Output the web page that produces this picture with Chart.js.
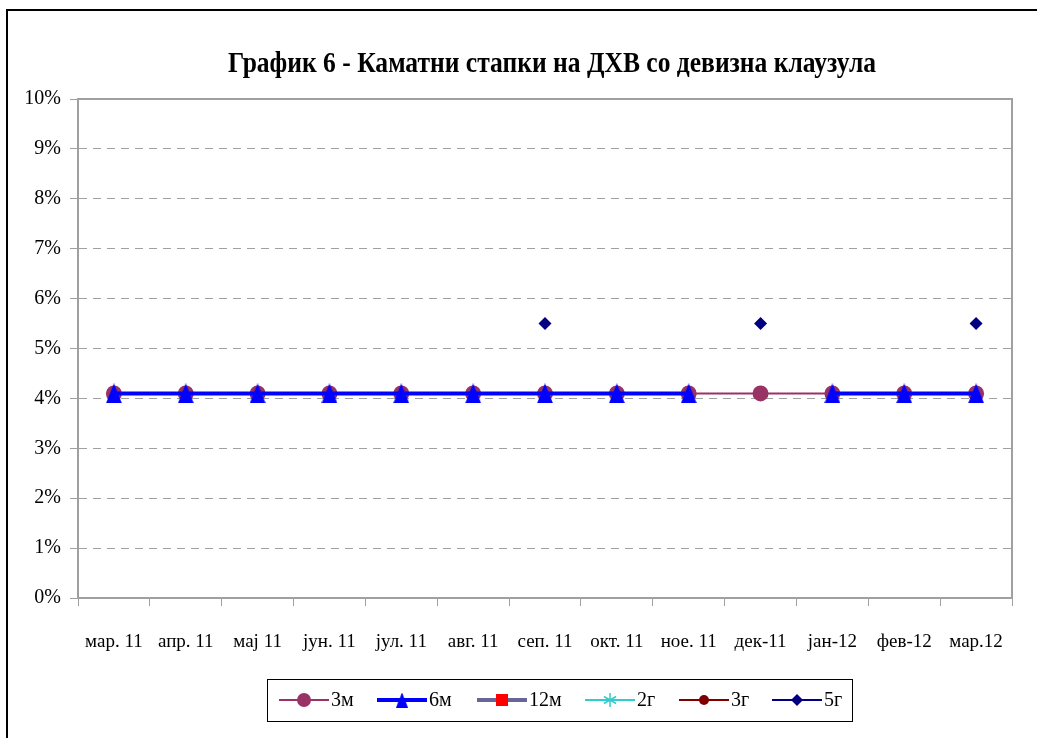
<!DOCTYPE html>
<html>
<head>
<meta charset="utf-8">
<script src="https://cdn.jsdelivr.net/npm/chart.js@4"></script>
<style>
  html, body { margin: 0; padding: 0; background: #fff; overflow: hidden; }
  #frame {
    position: absolute; left: 6px; top: 9px; width: 1100px; height: 800px;
    border-left: 2px solid #000; border-top: 2px solid #000;
  }
  #chart { position: absolute; left: 0; top: 0; }
</style>
</head>
<body>
<div id="frame"></div>
<canvas id="chart" width="1037" height="738"></canvas>
<script>
const TITLE = 'График 6 - Каматни стапки на ДХВ со девизна клаузула';
const FONT = '"Liberation Serif", "Times New Roman", serif';

const months = ['мар. 11', 'апр. 11', 'мај 11', 'јун. 11', 'јул. 11', 'авг. 11', 'сеп. 11',
  'окт. 11', 'ное. 11', 'дек-11', 'јан-12', 'фев-12', 'мар.12'];
const yTicks = [0, 1, 2, 3, 4, 5, 6, 7, 8, 9, 10];

const rate3m = [4.1, 4.1, 4.1, 4.1, 4.1, 4.1, 4.1, 4.1, 4.1, 4.1, 4.1, 4.1, 4.1];
const rate6m = [4.1, 4.1, 4.1, 4.1, 4.1, 4.1, 4.1, 4.1, 4.1, null, 4.1, 4.1, 4.1];
const rate12m = [null, null, null, null, null, null, null, null, null, null, null, null, null];
const rate2g = [null, null, null, null, null, null, null, null, null, null, null, null, null];
const rate3g = [null, null, null, null, null, null, null, null, null, null, null, null, null];
const rate5g = [null, null, null, null, null, null, 5.5, null, null, 5.5, null, null, 5.5];

// tall triangle marker, base sits below the point
function triangleMark(color) {
  const c = document.createElement('canvas');
  c.width = 16;
  c.height = 20;
  const g = c.getContext('2d');
  g.fillStyle = color;
  g.beginPath();
  g.moveTo(8, 0);
  g.lineTo(16, 20);
  g.lineTo(0, 20);
  g.closePath();
  g.fill();
  return c;
}

function series(label, data, color, markColor, width, style, radius, order) {
  return {
    label: label,
    data: data,
    borderColor: color,
    backgroundColor: markColor,
    pointBackgroundColor: markColor,
    pointBorderColor: markColor,
    borderWidth: width,
    pointStyle: style,
    pointRadius: radius,
    pointHoverRadius: radius,
    pointBorderWidth: style === 'star' ? 1.5 : 0,
    spanGaps: false,
    tension: 0,
    order: order
  };
}

// plot frame on all four sides
const plotFrame = {
  id: 'plotFrame',
  beforeDatasetsDraw(chart) {
    const a = chart.chartArea;
    const ctx = chart.ctx;
    ctx.save();
    ctx.strokeStyle = '#a0a0a0';
    ctx.lineWidth = 2;
    ctx.strokeRect(a.left, a.top, a.right - a.left, a.bottom - a.top);
    ctx.restore();
  }
};

// title squeezed into a narrow block
const titleText = {
  id: 'titleText',
  afterDraw(chart) {
    const ctx = chart.ctx;
    ctx.save();
    ctx.font = 'bold 29px ' + FONT;
    ctx.fillStyle = '#000';
    ctx.textAlign = 'center';
    ctx.textBaseline = 'alphabetic';
    const w = ctx.measureText(TITLE).width;
    const sx = 648 / w;
    ctx.translate(552, 72);
    ctx.scale(sx, 1);
    ctx.fillText(TITLE, 0, 0);
    ctx.restore();
  }
};

function drawMark(ctx, style, x, y, r, color) {
  ctx.fillStyle = color;
  ctx.strokeStyle = color;
  ctx.beginPath();
  if (style instanceof HTMLCanvasElement) {
    const w = style.width * 0.75;
    const h = style.height * 0.75;
    ctx.drawImage(style, x - w / 2, y - h / 2, w, h);
  } else if (style === 'circle') {
    ctx.arc(x, y, r, 0, Math.PI * 2);
    ctx.fill();
  } else if (style === 'rect') {
    const s = r * 0.75;
    ctx.fillRect(x - s, y - s, 2 * s, 2 * s);
  } else if (style === 'rectRot') {
    ctx.moveTo(x, y - r);
    ctx.lineTo(x + r, y);
    ctx.lineTo(x, y + r);
    ctx.lineTo(x - r, y);
    ctx.closePath();
    ctx.fill();
  } else if (style === 'star') {
    ctx.lineWidth = 1.5;
    for (let i = 0; i < 3; i++) {
      const ang = Math.PI / 2 + i * Math.PI / 3;
      ctx.moveTo(x + Math.cos(ang) * r, y + Math.sin(ang) * r);
      ctx.lineTo(x - Math.cos(ang) * r, y - Math.sin(ang) * r);
    }
    ctx.stroke();
  }
}

// boxed legend with line + marker samples
const boxLegend = {
  id: 'boxLegend',
  afterDraw(chart) {
    const ctx = chart.ctx;
    const starts = [279, 377, 477, 585, 679, 772];
    const cy = 700;
    ctx.save();
    ctx.strokeStyle = '#000';
    ctx.lineWidth = 1;
    ctx.strokeRect(267.5, 679.5, 585, 42);
    ctx.font = '20px ' + FONT;
    ctx.textBaseline = 'middle';
    chart.data.datasets.forEach((ds, i) => {
      const x0 = starts[i];
      ctx.strokeStyle = ds.borderColor;
      ctx.lineWidth = ds.borderWidth;
      ctx.beginPath();
      ctx.moveTo(x0, cy);
      ctx.lineTo(x0 + 50, cy);
      ctx.stroke();
      drawMark(ctx, ds.pointStyle, x0 + 25, cy, ds.legendRadius, ds.pointBackgroundColor);
      ctx.fillStyle = '#000';
      ctx.fillText(ds.label, x0 + 52, cy + 1);
    });
    ctx.restore();
  }
};

const datasets = [
  series('3м', rate3m, '#993366', '#993366', 2, 'circle', 8, 2),
  series('6м', rate6m, '#0000ff', '#0000ff', 4, triangleMark('#0000ff'), 10, 1),
  series('12м', rate12m, '#666699', '#ff0000', 4, 'rect', 7, 3),
  series('2г', rate2g, '#33cccc', '#33cccc', 2, 'star', 7, 4),
  series('3г', rate3g, '#800000', '#800000', 2, 'circle', 5, 5),
  series('5г', rate5g, '#000080', '#000080', 2, 'rectRot', 6.5, 0)
];
const legendRadii = [7, 10, 8, 7, 5, 6];
datasets.forEach((ds, i) => { ds.legendRadius = legendRadii[i]; });

new Chart(document.getElementById('chart'), {
  type: 'line',
  data: { labels: months, datasets: datasets },
  options: {
    responsive: false,
    animation: false,
    layout: { padding: { left: 20, right: 25, top: 99, bottom: 0 } },
    plugins: {
      legend: { display: false },
      title: { display: false },
      tooltip: { enabled: false }
    },
    scales: {
      x: {
        offset: true,
        grid: {
          offset: true,
          drawOnChartArea: false,
          drawTicks: true,
          tickLength: 8,
          tickColor: '#a0a0a0',
          tickWidth: 1
        },
        border: { color: '#a0a0a0', width: 2 },
        ticks: {
          color: '#000',
          font: { family: FONT, size: 19 },
          padding: 25,
          maxRotation: 0,
          autoSkip: false
        },
        afterFit(scale) { scale.height = 140; }
      },
      y: {
        min: 0,
        max: 10,
        afterBuildTicks(scale) { scale.ticks = yTicks.map(v => ({ value: v })); },
        grid: {
          color: '#a0a0a0',
          lineWidth: 1,
          tickLength: 8,
          tickColor: '#a0a0a0',
          tickWidth: 1
        },
        border: { color: '#a0a0a0', width: 2, dash: [8, 6] },
        ticks: {
          color: '#000',
          font: { family: FONT, size: 20 },
          padding: 9,
          callback: v => v + '%'
        },
        afterFit(scale) { scale.width = 58; }
      }
    }
  },
  plugins: [plotFrame, titleText, boxLegend]
});
</script>
</body>
</html>
